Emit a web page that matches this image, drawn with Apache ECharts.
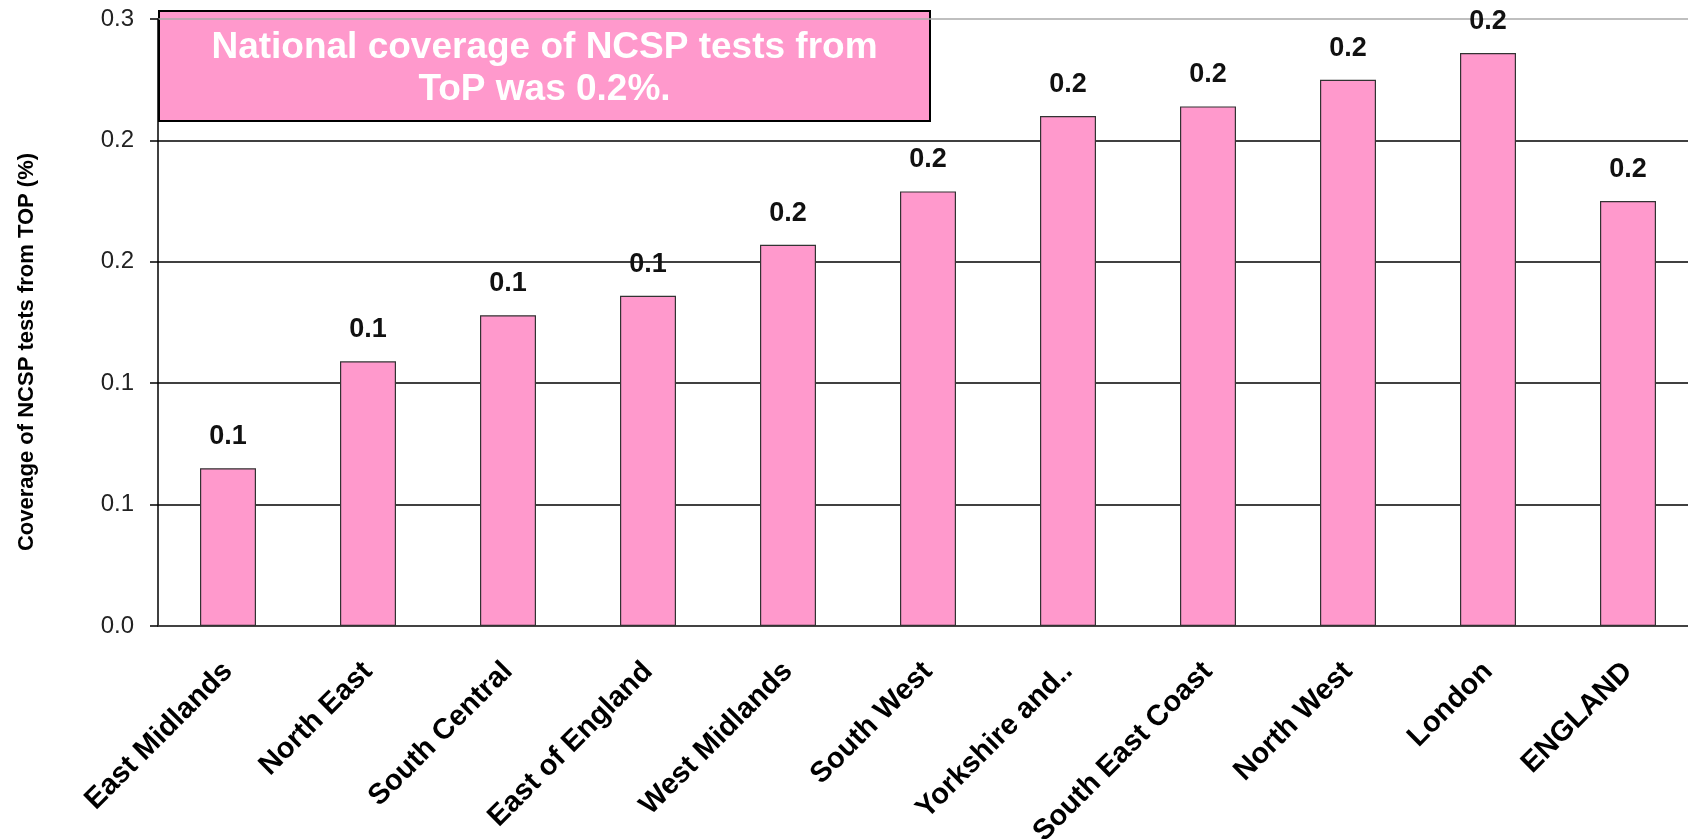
<!DOCTYPE html>
<html>
<head>
<meta charset="utf-8">
<script src="https://cdn.jsdelivr.net/npm/echarts@6.0.0/dist/echarts.min.js"></script>
<style>
	html, body { margin: 0; padding: 0; background: #fff; }
	#bar-chart { width: 1688px; height: 839px; }
</style>
</head>
<body>
<div id="bar-chart"></div>
<script>
var regions = ['East Midlands', 'North East', 'South Central', 'East of England', 'West Midlands',
	'South West', 'Yorkshire and..', 'South East Coast', 'North West', 'London', 'ENGLAND'];
var coverage = [0.065, 0.109, 0.128, 0.136, 0.157, 0.179, 0.210, 0.214, 0.225, 0.236, 0.175];
var yTickLabels = ['0.0', '0.1', '0.1', '0.2', '0.2', '0.3'];
var boxLines = ['National coverage of NCSP tests from', 'ToP was 0.2%.'];
var yTitle = 'Coverage of NCSP tests from TOP (%)';

var font = "'Liberation Sans', Arial, sans-serif";
var chart = echarts.init(document.getElementById('bar-chart'));
var option = {
	animation: false,
	grid: {
		left: 158,
		right: -10,
		top: 19,
		bottom: 213,
		outerBoundsMode: 'none'
	},
	xAxis: {
		type: 'category',
		data: regions,
		axisLine: { lineStyle: { color: '#444', width: 1.5 } },
		axisTick: { length: 9, lineStyle: { color: '#444', width: 1.5 } },
		axisLabel: {
			interval: 0,
			rotate: 45,
			margin: 41,
			color: '#000',
			fontFamily: font,
			fontWeight: 'bold',
			fontSize: 29
		}
	},
	yAxis: {
		type: 'value',
		min: 0,
		max: 0.25,
		interval: 0.05,
		axisLine: { show: true, lineStyle: { color: '#000', width: 1.5 } },
		axisTick: { show: true, length: 8, lineStyle: { color: '#000', width: 1.5 } },
		axisLabel: {
			margin: 24,
			color: '#222',
			fontFamily: font,
			fontSize: 24,
			formatter: function(v, i) { return yTickLabels[i]; }
		},
		splitLine: {
			lineStyle: { color: ['#000', '#000', '#000', '#000', '#000', '#aaa'], width: 1.5 }
		}
	},
	series: [
		{
			type: 'bar',
			data: coverage,
			barWidth: '40%',
			itemStyle: { color: '#ff99cc', borderColor: '#333', borderWidth: 1.2 },
			label: {
				show: true,
				position: 'top',
				distance: 18,
				color: '#111',
				fontFamily: font,
				fontWeight: 'bold',
				fontSize: 27,
				formatter: function(p) { return (Math.round(p.value * 10) / 10).toFixed(1); }
			}
		}
	],
	graphic: [
		{
			type: 'group',
			left: 158,
			top: 10,
			z: 100,
			children: [
				{
					type: 'rect',
					shape: { x: 0, y: 0, width: 771, height: 110 },
					style: { fill: '#ff99cc', stroke: '#000', lineWidth: 2 }
				},
				{
					type: 'text',
					x: 385.5,
					y: 58,
					style: {
						text: boxLines.join('\n'),
						fill: '#fff',
						font: 'bold 37px ' + font,
						lineHeight: 42,
						align: 'center',
						verticalAlign: 'middle'
					}
				}
			]
		},
		{
			type: 'text',
			x: 27,
			y: 352,
			rotation: Math.PI / 2,
			z: 100,
			style: {
				text: yTitle,
				fill: '#000',
				font: 'bold 22px ' + font,
				align: 'center',
				verticalAlign: 'middle'
			}
		}
	]
};
chart.setOption(option);
</script>
</body>
</html>
